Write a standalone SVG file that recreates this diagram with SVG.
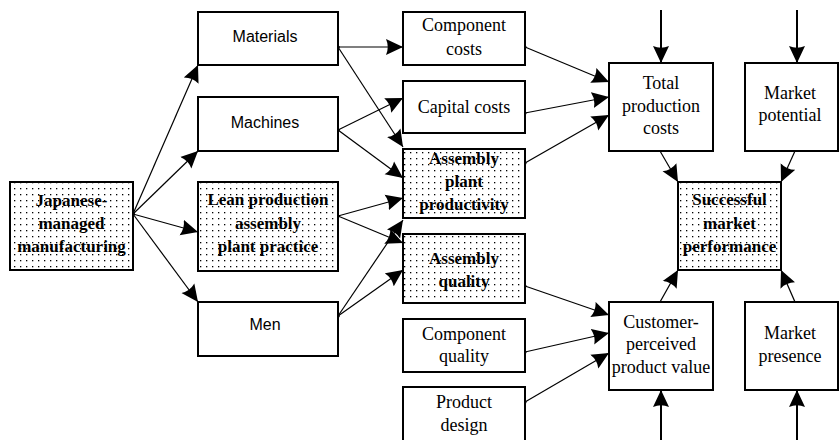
<svg xmlns="http://www.w3.org/2000/svg" width="840" height="440" viewBox="0 0 840 440">
<defs>
<pattern id="dots" x="0" y="0" width="6" height="6" patternUnits="userSpaceOnUse">
<rect x="0" y="0" width="6" height="6" fill="#ffffff"/>
<rect x="2" y="2" width="1.3" height="1.3" fill="#000000"/>
</pattern>
<marker id="ah" markerUnits="userSpaceOnUse" markerWidth="18" markerHeight="17" refX="17" refY="8.5" orient="auto" viewBox="0 0 18 17">
<path d="M0,0.5 L17,8.5 L0,16.5 Q3.5,8.5 0,0.5 z" fill="#000000"/>
</marker>
<marker id="dot" markerUnits="userSpaceOnUse" markerWidth="4" markerHeight="4" refX="2" refY="2" viewBox="0 0 4 4">
<circle cx="2" cy="2" r="1.6" fill="#000000"/>
</marker>
</defs>
<style>
.box{fill:#ffffff;stroke:#000000;stroke-width:2}
.dbox{fill:url(#dots);stroke:#000000;stroke-width:2}
.sans{font-family:"Liberation Sans",Arial,sans-serif;font-size:16px;fill:#000000;text-anchor:middle}
.serif{font-family:"Liberation Serif","Times New Roman",serif;font-size:18px;fill:#000000;text-anchor:middle}
.bold{font-family:"Liberation Serif","Times New Roman",serif;font-size:17px;font-weight:bold;fill:#000000;text-anchor:middle}
.c{fill:none;stroke:#000000;stroke-width:1.2;marker-start:url(#dot);marker-end:url(#ah)}
.v{fill:none;stroke:#000000;stroke-width:2;marker-end:url(#ah)}
.s{fill:none;stroke:#000000;stroke-width:1.2;marker-end:url(#ah)}
</style>
<rect width="840" height="440" fill="#ffffff"/>
<g id="connectors">
<line class="c" x1="133" y1="214" x2="198" y2="65"/>
<line class="c" x1="133" y1="214" x2="198" y2="151"/>
<line class="c" x1="133" y1="214" x2="198" y2="232"/>
<line class="c" x1="133" y1="214" x2="198" y2="302"/>
<line class="c" x1="338" y1="47" x2="403" y2="47"/>
<line class="c" x1="338" y1="47" x2="403" y2="147"/>
<line class="c" x1="338" y1="130" x2="403" y2="98"/>
<line class="c" x1="338" y1="130" x2="403" y2="178"/>
<line class="c" x1="338" y1="216" x2="403" y2="198"/>
<line class="c" x1="338" y1="216" x2="403" y2="243"/>
<line class="c" x1="338" y1="316" x2="403" y2="220"/>
<line class="c" x1="338" y1="316" x2="403" y2="270"/>
<line class="c" x1="525" y1="47" x2="609" y2="82"/>
<line class="c" x1="525" y1="113" x2="609" y2="97"/>
<line class="c" x1="525" y1="163" x2="609" y2="115"/>
<line class="c" x1="525" y1="286" x2="609" y2="315"/>
<line class="c" x1="525" y1="352" x2="609" y2="333"/>
<line class="c" x1="525" y1="402" x2="609" y2="353"/>
<line class="v" x1="661" y1="10" x2="661" y2="63"/>
<line class="v" x1="797" y1="10" x2="797" y2="63"/>
<line class="v" x1="661" y1="442" x2="661" y2="390"/>
<line class="v" x1="797" y1="442" x2="797" y2="390"/>
<line class="s" x1="660" y1="151" x2="678" y2="182"/>
<line class="s" x1="795" y1="151" x2="781" y2="182"/>
<line class="s" x1="660" y1="302" x2="678" y2="270"/>
<line class="s" x1="795" y1="302" x2="781" y2="270"/>
</g>
<g id="japanese">
<rect class="dbox" x="10" y="182" width="123" height="88"/>
<text class="bold" x="71.5" y="206">Japanese-</text>
<text class="bold" x="71.5" y="229">managed</text>
<text class="bold" x="71.5" y="252">manufacturing</text>
</g>
<g id="materials">
<rect class="box" x="198" y="12" width="140" height="53"/>
<text class="sans" x="265" y="42">Materials</text>
</g>
<g id="machines">
<rect class="box" x="198" y="97" width="140" height="54"/>
<text class="sans" x="265" y="128">Machines</text>
</g>
<g id="lean">
<rect class="dbox" x="198" y="182" width="140" height="89"/>
<text class="bold" x="268" y="205">Lean production</text>
<text class="bold" x="268" y="229">assembly</text>
<text class="bold" x="268" y="252">plant practice</text>
</g>
<g id="men">
<rect class="box" x="198" y="302" width="140" height="54"/>
<text class="sans" x="265" y="330">Men</text>
</g>
<g id="component-costs">
<rect class="box" x="403" y="12" width="122" height="53"/>
<text class="serif" x="464" y="31">Component</text>
<text class="serif" x="464" y="55">costs</text>
</g>
<g id="capital-costs">
<rect class="box" x="403" y="81" width="122" height="52"/>
<text class="serif" x="464" y="113">Capital costs</text>
</g>
<g id="assembly-productivity">
<rect class="dbox" x="403" y="149" width="122" height="69"/>
<text class="bold" x="464" y="164">Assembly</text>
<text class="bold" x="464" y="187">plant</text>
<text class="bold" x="464" y="210">productivity</text>
</g>
<g id="assembly-quality">
<rect class="dbox" x="403" y="234" width="122" height="69"/>
<text class="bold" x="464" y="264">Assembly</text>
<text class="bold" x="464" y="287">quality</text>
</g>
<g id="component-quality">
<rect class="box" x="403" y="319" width="122" height="53"/>
<text class="serif" x="464" y="340">Component</text>
<text class="serif" x="464" y="362">quality</text>
</g>
<g id="product-design">
<rect class="box" x="403" y="387" width="122" height="60"/>
<text class="serif" x="464" y="408">Product</text>
<text class="serif" x="464" y="431">design</text>
</g>
<g id="total-production-costs">
<rect class="box" x="609" y="63" width="104" height="88"/>
<text class="serif" x="661" y="89">Total</text>
<text class="serif" x="661" y="112">production</text>
<text class="serif" x="661" y="134">costs</text>
</g>
<g id="market-potential">
<rect class="box" x="745" y="63" width="93" height="88"/>
<text class="serif" x="790" y="99">Market</text>
<text class="serif" x="790" y="121">potential</text>
</g>
<g id="successful-market-performance">
<rect class="dbox" x="678" y="182" width="103" height="88"/>
<text class="bold" x="729.5" y="205">Successful</text>
<text class="bold" x="729.5" y="229">market</text>
<text class="bold" x="729.5" y="252">performance</text>
</g>
<g id="customer-value">
<rect class="box" x="609" y="302" width="104" height="88"/>
<text class="serif" x="661" y="328">Customer-</text>
<text class="serif" x="661" y="350">perceived</text>
<text class="serif" x="661" y="373">product value</text>
</g>
<g id="market-presence">
<rect class="box" x="745" y="302" width="93" height="88"/>
<text class="serif" x="790" y="339">Market</text>
<text class="serif" x="790" y="362">presence</text>
</g>
</svg>
